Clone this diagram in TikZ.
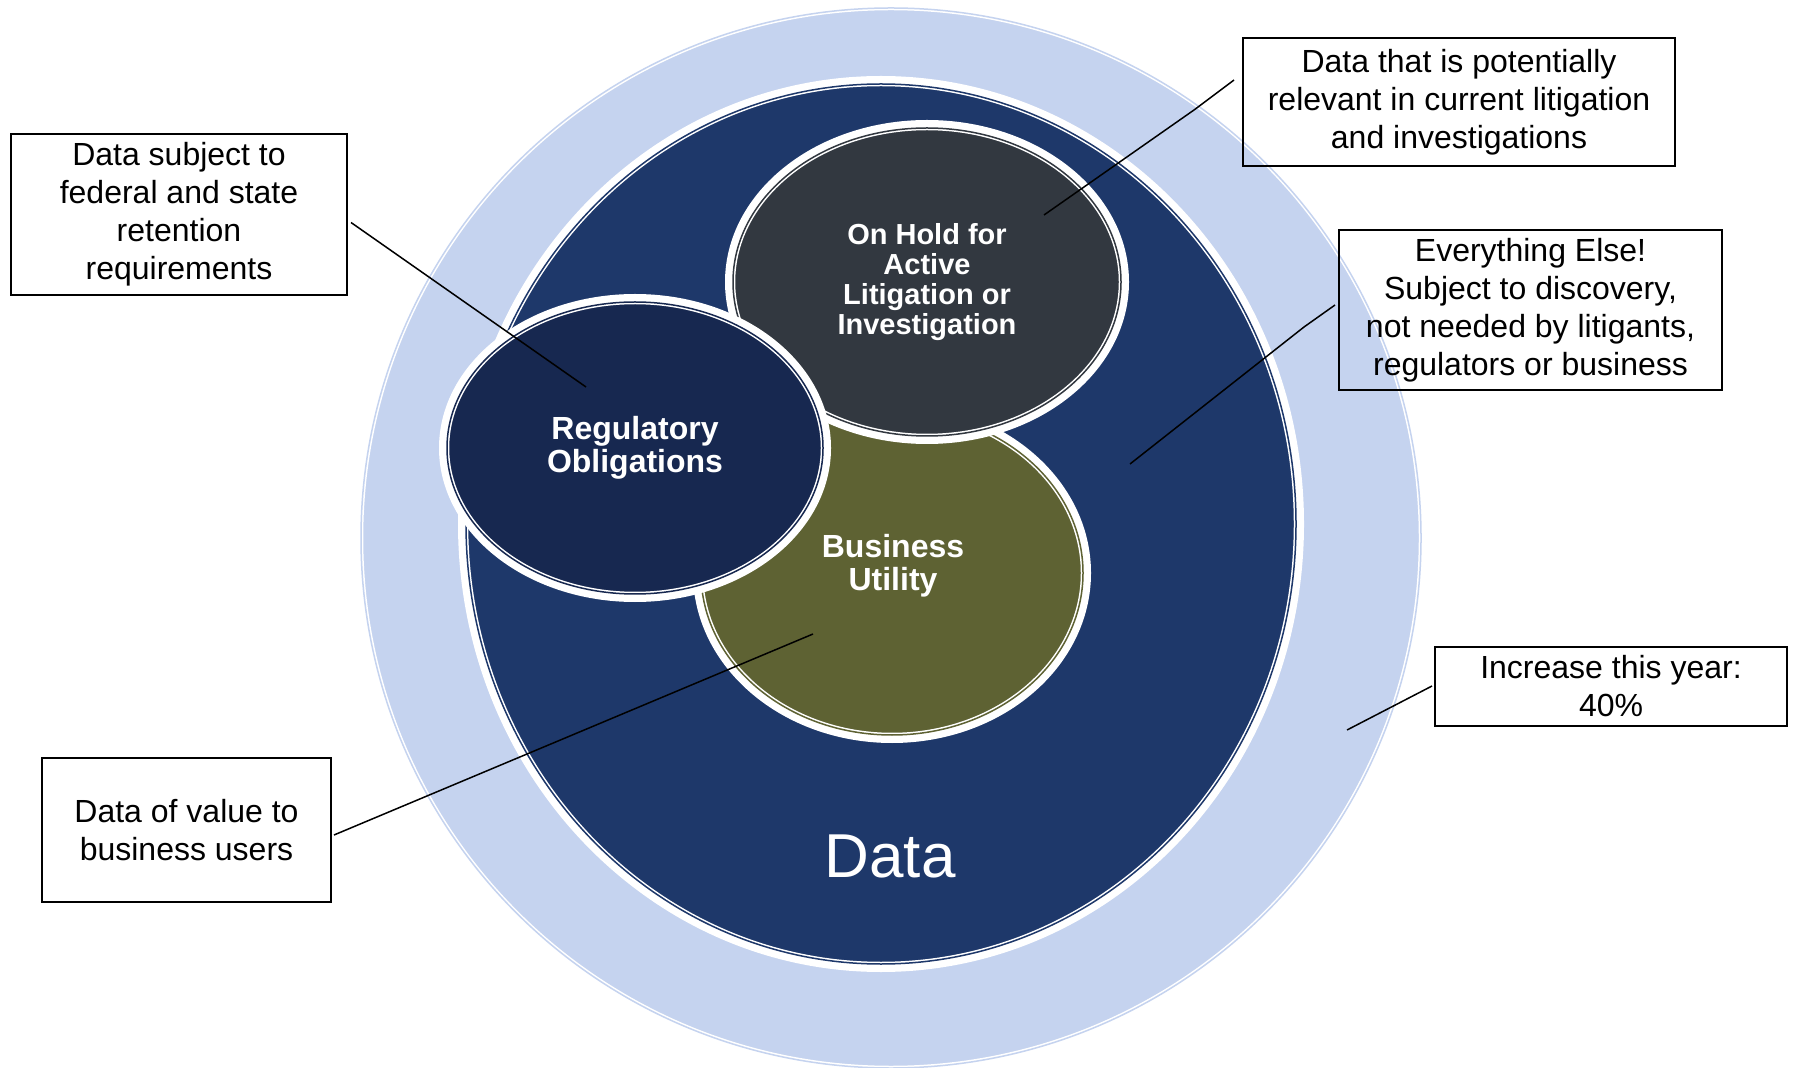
\documentclass[tikz,border=0pt]{standalone}
\usepackage{fontspec}
\setmainfont{Liberation Sans}
\usepackage{tikz}
\usepackage{xcolor}
\usetikzlibrary{calc,positioning,shapes.geometric}
\definecolor{ringblue}{HTML}{C5D3EF}
\definecolor{datanavy}{HTML}{1E386A}
\definecolor{regnavy}{HTML}{172850}
\definecolor{holdgray}{HTML}{323840}
\definecolor{bizolive}{HTML}{5E6233}
\tikzset{%
	blob/.style    = {ellipse, fill=#1, draw=white, line width=0.75pt, double=#1, double distance=0.75pt,
	                  preaction={draw=white, line width=8pt}, inner sep=0pt, text=white, align=center},
	callout/.style = {draw, rectangle, line width=1pt, inner sep=0pt, align=center,
	                  font=\fontsize{16pt}{19pt}\selectfont},
	leader/.style  = {line width=0.75pt},
}
\begin{document}
\begin{tikzpicture}[x=0.5pt,y=-0.5pt]
	\useasboundingbox (0,0) rectangle (1797,1068);
	\node[blob=ringblue, minimum width=530pt, minimum height=530pt] (ring) at (891,538) {};
	\node[blob=datanavy, minimum width=415pt, minimum height=440pt] (data) at (881,524) {};
	\node[blob=bizolive, minimum width=191pt, minimum height=162pt] (biz) at (892,573) {};
	\node[text=white, align=center, font=\fontsize{16pt}{16.5pt}\bfseries] (bizlabel) at (893,566) {Business\\Utility};
	\node[blob=holdgray, minimum width=194pt, minimum height=154pt,
	      font=\fontsize{14.5pt}{15pt}\bfseries] (hold) at (927,282) {On Hold for\\Active\\Litigation or\\Investigation};
	\node[blob=regnavy, minimum width=188pt, minimum height=146pt,
	      font=\fontsize{16pt}{16.5pt}\bfseries] (reg) at (635,448) {Regulatory\\Obligations};
	\node[text=white, font=\fontsize{31pt}{31pt}\selectfont] (datalabel) at (890,856) {Data};

	\node[callout, minimum width=216pt, minimum height=64pt] (holdbox) at (1459,102)
		{Data that is potentially\\relevant in current litigation\\and investigations};
	\node[callout, minimum width=168pt, minimum height=80.5pt] (regbox) at (179,214.5)
		{Data subject to\\federal and state\\retention\\requirements};
	\node[callout, minimum width=144.5pt, minimum height=72pt] (bizbox) at (186.5,830)
		{Data of value to\\business users};
	\node[callout, minimum width=191.5pt, minimum height=80pt] (elsebox) at (1530.5,310)
		{Everything Else!\\Subject to discovery,\\not needed by litigants,\\regulators or business};
	\node[callout, minimum width=176pt, minimum height=39.5pt] (growbox) at (1611,686)
		{Increase this year:\\40\%};

	\coordinate (hold-pt) at (1044,215);
	\coordinate (hold-bend) at (1194,110);
	\coordinate (reg-pt) at (586,387);
	\coordinate (biz-pt) at (813,634);
	\coordinate (else-pt) at (1130,464);
	\coordinate (else-bend) at (1304,327);
	\coordinate (grow-pt) at (1347,730);
	\draw[leader] (hold-pt) -- (hold-bend) -- ([xshift=-4pt,yshift=11pt]holdbox.west);
	\draw[leader] ([xshift=1.5pt,yshift=-4pt]regbox.east) -- (reg-pt);
	\draw[leader] ([xshift=1pt,yshift=-2.5pt]bizbox.east) -- (biz-pt);
	\draw[leader] ([xshift=-1.5pt,yshift=2.5pt]elsebox.west) -- (else-bend) -- (else-pt);
	\draw[leader] ([xshift=-1pt]growbox.west) -- (grow-pt);
\end{tikzpicture}
\end{document}
